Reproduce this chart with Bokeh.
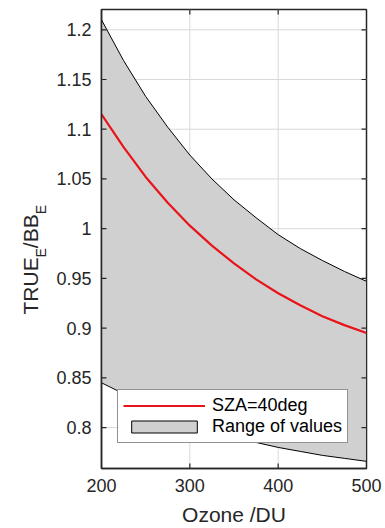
import math
from bokeh.plotting import figure
from bokeh.layouts import row
from bokeh.models import Range1d, FixedTicker, Legend, LegendItem
from bokeh.core.properties import value
from bokeh.embed import file_html
from bokeh.resources import INLINE

# Ozone column (DU) and TRUE_E/BB_E ratios
ozone = [200, 225, 250, 275, 300, 325, 350, 375, 400, 425, 450, 475, 500]
ratio_sza40 = [1.115, 1.082, 1.052, 1.026, 1.003, 0.983, 0.965, 0.949, 0.935, 0.923, 0.912, 0.903, 0.895]
range_upper = [1.210, 1.169, 1.133, 1.102, 1.074, 1.050, 1.029, 1.011, 0.994, 0.980, 0.968, 0.957, 0.947]
range_lower = [0.845, 0.834, 0.824, 0.815, 0.806, 0.798, 0.791, 0.785, 0.780, 0.776, 0.772, 0.769, 0.766]

x_ticks = [200, 300, 400, 500]
y_ticks = [0.8, 0.85, 0.9, 0.95, 1.0, 1.05, 1.1, 1.15, 1.2]
y_tick_labels = ["0.8", "0.85", "0.9", "0.95", "1", "1.05", "1.1", "1.15", "1.2"]

FONT = "Liberation Sans"
INK = "#262626"
GRID = "#d9d9d9"

X0, X1 = 200, 500
Y0, Y1 = 0.7588, 1.2204
FW, FH = 265, 459
LABEL_W = 52          # strip holding the rotated y-axis title
H = 528
TICK_PX = 5
tick_dx = TICK_PX * (X1 - X0) / FW
tick_dy = TICK_PX * (Y1 - Y0) / FH

# ---- main chart ---------------------------------------------------------
p = figure(frame_width=FW, frame_height=FH,
           x_range=Range1d(X0, X1), y_range=Range1d(Y0, Y1),
           output_backend="svg", toolbar_location=None,
           min_border_left=101 - LABEL_W, min_border_right=19,
           min_border_top=9, min_border_bottom=60)
p.outline_line_color = INK
p.outline_line_width = 1.5
p.grid.visible = False

# grid lines, one line glyph each
for t in x_ticks[1:-1]:
    p.line([t, t], [Y0, Y1], line_color=GRID, line_width=1)
for t in y_ticks:
    p.line([X0, X1], [t, t], line_color=GRID, line_width=1)

# axes: labels only
xa = p.xaxis[0]
xa.ticker = FixedTicker(ticks=x_ticks)
ya = p.yaxis[0]
ya.ticker = FixedTicker(ticks=y_ticks)
ya.major_label_overrides = {t: s for t, s in zip(y_ticks, y_tick_labels)}
for ax in (xa, ya):
    ax.major_tick_in = 0
    ax.major_tick_out = 0
    ax.minor_tick_in = 0
    ax.minor_tick_out = 0
    ax.axis_line_color = INK
    ax.axis_line_width = 1.5
    ax.major_label_text_font = FONT
    ax.major_label_text_font_size = "18px"
    ax.major_label_text_color = INK
    ax.major_label_standoff = 10
xa.axis_label = "Ozone /DU"
xa.axis_label_text_font = FONT
xa.axis_label_text_font_size = "21px"
xa.axis_label_text_font_style = "normal"
xa.axis_label_text_color = INK
xa.axis_label_standoff = 8

# range band and SZA=40deg curve
band_x = ozone + ozone[::-1]
band_y = range_upper + range_lower[::-1]
band = p.patch(band_x, band_y, fill_color="#d0d0d0", line_color="black", line_width=1)
curve = p.line(ozone, ratio_sza40, line_color="#e8141a", line_width=2.2)

# inward tick marks on all four edges
for t in x_ticks[1:-1]:
    p.line([t, t], [Y0, Y0 + tick_dy], line_color=INK, line_width=1.2)
    p.line([t, t], [Y1, Y1 - tick_dy], line_color=INK, line_width=1.2)
for t in y_ticks:
    p.line([X0, X0 + tick_dx], [t, t], line_color=INK, line_width=1.2)
    p.line([X1, X1 - tick_dx], [t, t], line_color=INK, line_width=1.2)

legend = Legend(items=[LegendItem(label="SZA=40deg", renderers=[curve]),
                       LegendItem(label="Range of values", renderers=[band])],
                location=(16, 25), orientation="vertical")
legend.label_text_font = FONT
legend.label_text_font_size = "18px"
legend.label_text_color = "black"
legend.glyph_width = 82
legend.glyph_height = 15
legend.label_height = 15
legend.label_standoff = 7
legend.padding = 5
legend.spacing = 0
legend.margin = 0
legend.border_line_color = INK
legend.border_line_width = 1.5
legend.background_fill_color = "white"
legend.background_fill_alpha = 1.0
p.add_layout(legend, "center")

# ---- y-axis title strip: TRUE_E/BB_E with subscripts -----------------------
lab = figure(frame_width=LABEL_W, frame_height=H,
             x_range=Range1d(0, LABEL_W), y_range=Range1d(0, H),
             output_backend="svg", toolbar_location=None,
             x_axis_location=None, y_axis_location=None, min_border=0)
lab.outline_line_color = None
lab.grid.visible = False

# pieces of the title: text, font size, baseline x, start height (pixels from the bottom)
title_parts = ["TRUE", "E", "/BB", "E"]
title_sizes = ["21px", "14px", "21px", "14px"]
title_x = [30, 40, 30, 40]
title_y = [H - 305, H - 248, H - 238.7, H - 204.8]
for txt, size, tx, ty in zip(title_parts, title_sizes, title_x, title_y):
    lab.text(x=[tx], y=[ty], text=[txt], angle=math.pi / 2,
             text_font=value(FONT), text_font_size=value(size), text_color=INK,
             text_align="left", text_baseline="alphabetic")

layout = row(lab, p)
open("out.html", "w").write(file_html(layout, INLINE))
